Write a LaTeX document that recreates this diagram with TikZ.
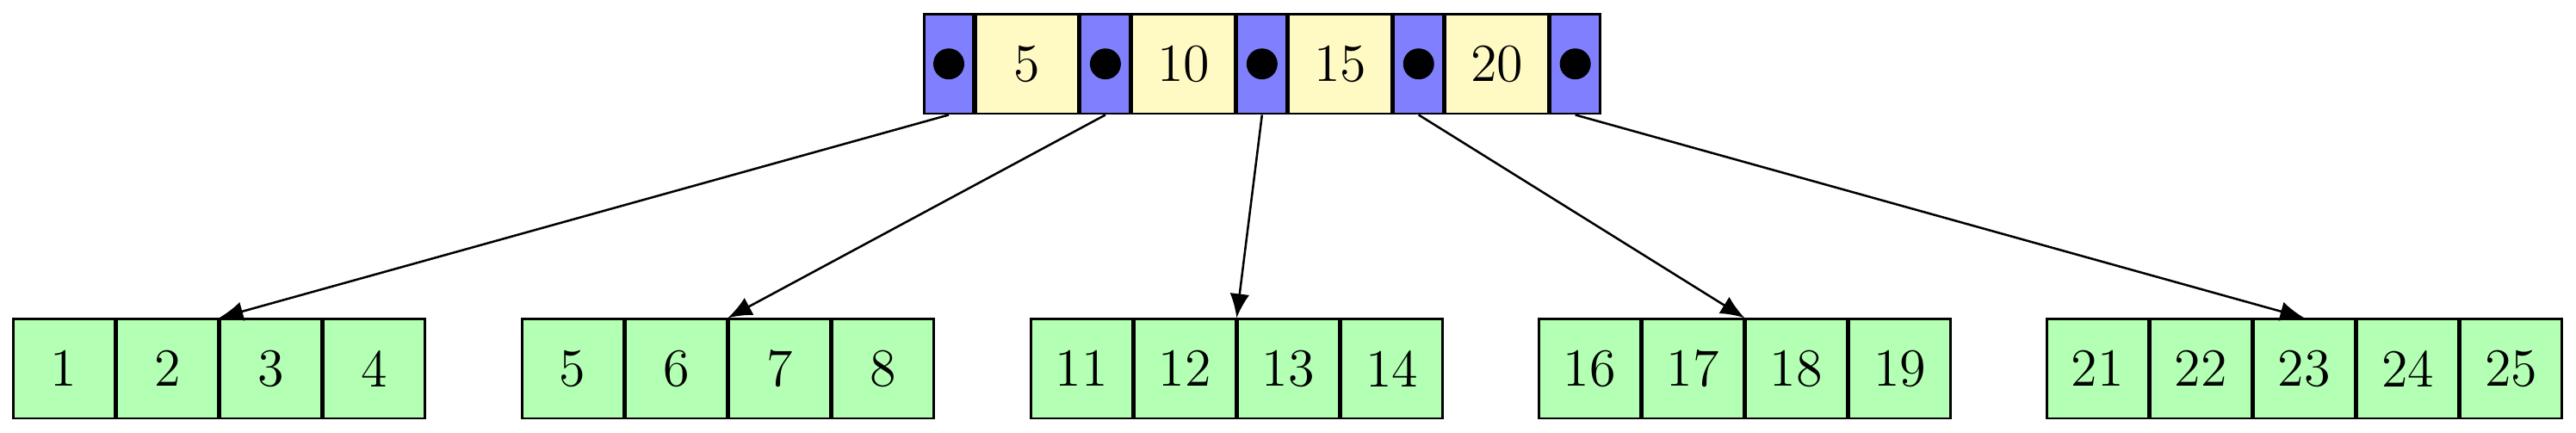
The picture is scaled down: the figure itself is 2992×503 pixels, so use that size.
\documentclass[tikz,border=0pt]{standalone}
\usetikzlibrary{positioning,arrows.meta}
\definecolor{ptrblue}{RGB}{128,128,255}
\definecolor{keyyellow}{RGB}{255,250,195}
\definecolor{leafgreen}{RGB}{179,255,179}
\begin{document}
\begin{tikzpicture}[x=0.0083556cm,y=-0.0083556cm,
  every node/.style={font=\fontsize{14.8}{18}\selectfont},
  box/.style={draw=black, semithick, inner sep=0pt, minimum height=0.969cm},
  ptr/.style={box, fill=ptrblue, minimum width=0.4804cm},
  key/.style={box, fill=keyyellow, minimum width=0.9985cm},
  leaf/.style={draw=black, semithick, fill=leafgreen, inner sep=0pt, minimum width=0.9837cm, minimum height=0.965cm},
  link/.style={semithick, -{Latex[length=0.234cm,width=0.19cm]}}]
\useasboundingbox (0,0) rectangle (2992,503);
% root node
\node[ptr] (p1) at (1102,74.25) {};
\node[key, right=0pt of p1] (k1) {5};
\node[ptr, right=0pt of k1] (p2) {};
\node[key, right=0pt of p2] (k2) {10};
\node[ptr, right=0pt of k2] (p3) {};
\node[key, right=0pt of p3] (k3) {15};
\node[ptr, right=0pt of k3] (p4) {};
\node[key, right=0pt of p4] (k4) {20};
\node[ptr, right=0pt of k4] (p5) {};
\foreach \p in {p1,p2,p3,p4,p5} \fill[black] (\p.center) circle[radius=0.1504cm];
% leaves
\node[leaf] (a1) at (74.1,428.3) {1};
\node[leaf, right=0pt of a1] (a2) {2};
\node[leaf, right=0pt of a2] (a3) {3};
\node[leaf, right=0pt of a3] (a4) {4};
\node[leaf] (b1) at (665.1,428.3) {5};
\node[leaf, right=0pt of b1] (b2) {6};
\node[leaf, right=0pt of b2] (b3) {7};
\node[leaf, right=0pt of b3] (b4) {8};
\node[leaf] (c1) at (1256.1,428.3) {11};
\node[leaf, right=0pt of c1] (c2) {12};
\node[leaf, right=0pt of c2] (c3) {13};
\node[leaf, right=0pt of c3] (c4) {14};
\node[leaf] (d1) at (1846.1,428.3) {16};
\node[leaf, right=0pt of d1] (d2) {17};
\node[leaf, right=0pt of d2] (d3) {18};
\node[leaf, right=0pt of d3] (d4) {19};
\node[leaf] (e1) at (2436.1,428.3) {21};
\node[leaf, right=0pt of e1] (e2) {22};
\node[leaf, right=0pt of e2] (e3) {23};
\node[leaf, right=0pt of e3] (e4) {24};
\node[leaf, right=0pt of e4] (e5) {25};
% links
\draw[link] (p1.south) -- (a2.north east);
\draw[link] (p2.south) -- (b2.north east);
\draw[link] (p3.south) -- (c2.north east);
\draw[link] (p4.south) -- (d2.north east);
\draw[link] (p5.south) -- (e3.north);
\end{tikzpicture}
\end{document}
